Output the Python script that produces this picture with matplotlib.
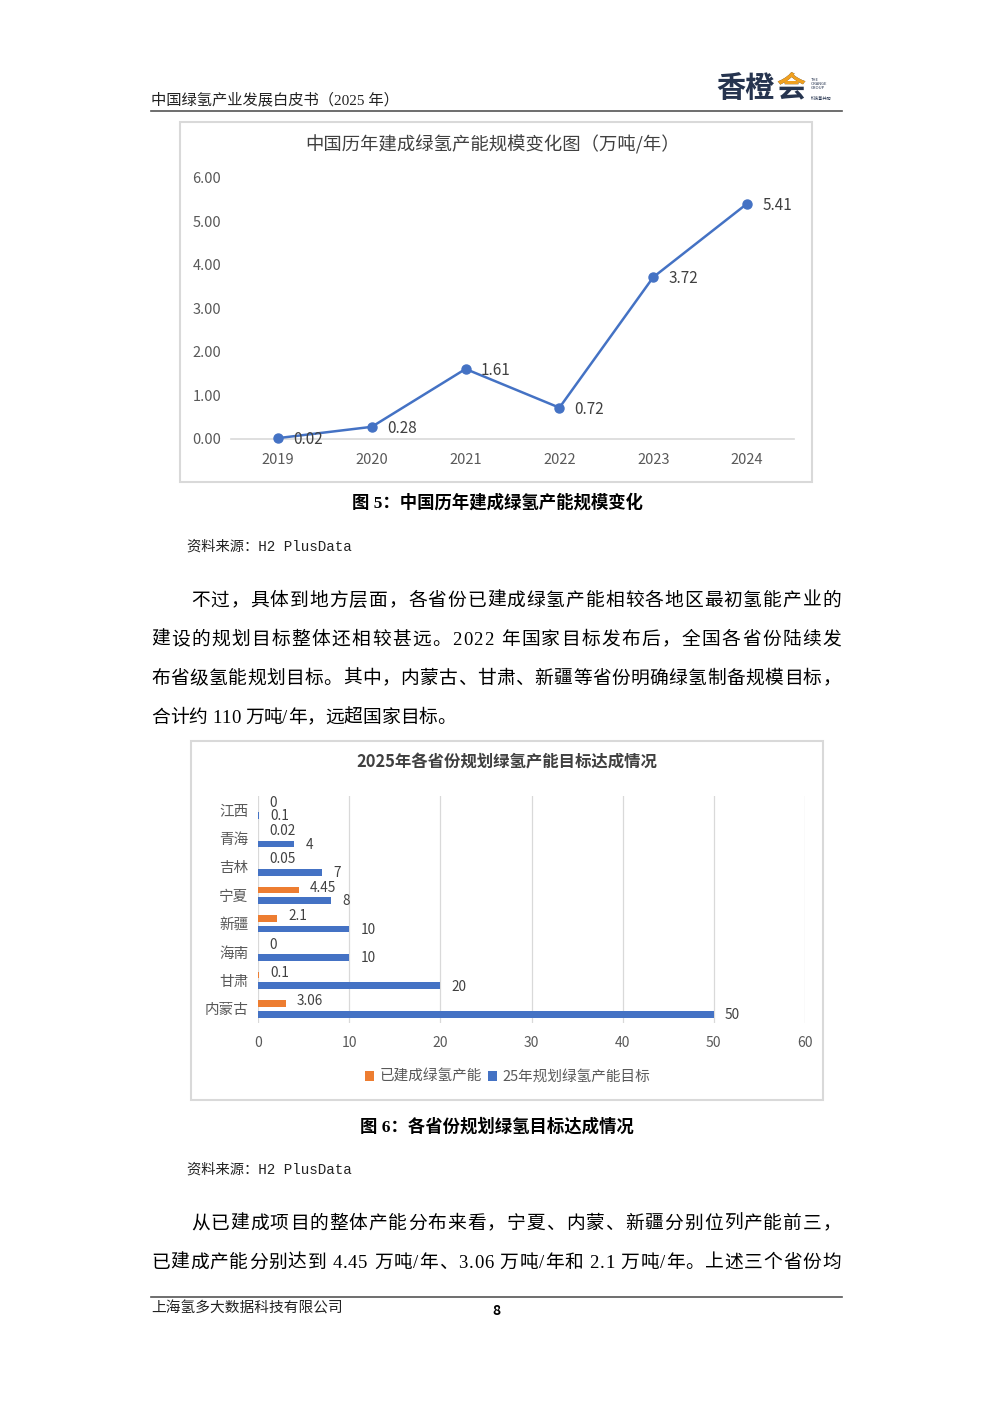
import matplotlib
matplotlib.use('Agg')
import numpy as np
import matplotlib.pyplot as plt
import matplotlib.patches as patches
from matplotlib.lines import Line2D
from matplotlib.transforms import Bbox, TransformedBbox, IdentityTransform

plt.rcParams['font.family'] = ['Noto Sans CJK SC', 'DejaVu Sans']

# chart 1 data
years = ['2019', '2020', '2021', '2022', '2023', '2024']
capacity = [0.02, 0.28, 1.61, 0.72, 3.72, 5.41]

# chart 2 data (bottom to top)
provinces = ['内蒙古', '甘肃', '海南', '新疆', '宁夏', '吉林', '青海', '江西']
built = [3.06, 0.1, 0, 2.1, 4.45, 0.05, 0.02, 0]
target = [50, 20, 10, 10, 8, 7, 4, 0.1]
legend_labels = ['已建成绿氢产能', '25年规划绿氢产能目标']

para1 = ['不过，具体到地方层面，各省份已建成绿氢产能相较各地区最初氢能产业的',
         '建设的规划目标整体还相较甚远。2022 年国家目标发布后，全国各省份陆续发',
         '布省级氢能规划目标。其中，内蒙古、甘肃、新疆等省份明确绿氢制备规模目标，',
         '合计约 110 万吨/年，远超国家目标。']
para2 = ['从已建成项目的整体产能分布来看，宁夏、内蒙、新疆分别位列产能前三，',
         '已建成产能分别达到 4.45 万吨/年、3.06 万吨/年和 2.1 万吨/年。上述三个省份均']

W, H = 992, 1403
fig = plt.figure(figsize=(W / 100, H / 100), dpi=100)
renderer = fig.canvas.get_renderer()

SERIF = ['Liberation Serif', 'Noto Sans CJK SC']
MONO = ['Liberation Mono', 'Noto Sans CJK SC']


def fx(x):
    return x / W


def fy(y):
    return 1 - y / H


def text_w(s, size, fam):
    t = fig.text(0, 0, s, fontsize=size, family=fam)
    w = t.get_window_extent(renderer).width
    t.remove()
    return w


def put_line(x0, y, s, size=13.5, x1=None, fam=SERIF):
    # justified line, y is the visual centre of the CJK glyphs
    base = text_w('中中', size, fam)
    ws = [text_w('中' + c + '中', size, fam) - base for c in s]
    gap = 0
    if x1 is not None and len(s) > 1:
        gap = (x1 - x0 - sum(ws)) / (len(s) - 1)
    x = x0
    for c, w in zip(s, ws):
        if c != ' ':
            fig.text(fx(x), fy(y + 7), c, fontsize=size, family=fam,
                     color='black', ha='left', va='baseline')
        x += w + gap


def hline(x0, x1, y, color='#555555', lw=1.2):
    fig.add_artist(Line2D([fx(x0), fx(x1)], [fy(y), fy(y)], color=color, lw=lw))


def frame(x0, y0, x1, y1):
    fig.add_artist(patches.Rectangle((fx(x0), fy(y1)), (x1 - x0) / W, (y1 - y0) / H,
                                     transform=fig.transFigure, fill=False,
                                     edgecolor='#d9d9d9', lw=1.5))


# header
fig.text(fx(151), fy(100), '中国绿氢产业发展白皮书（2025 年）', fontsize=11, family=SERIF,
         va='center', color='#222222')
hline(151, 842, 111)
fig.text(fx(716), fy(88), '香橙', fontsize=21, fontweight='bold', color='#26344f', va='center')
t_hui = fig.text(fx(776), fy(88), '会', fontsize=21, fontweight='bold', color='#26344f', va='center')
t_top = fig.text(fx(776), fy(88), '会', fontsize=21, fontweight='bold', color='#f0a020', va='center')
t_top.set_clip_box(TransformedBbox(Bbox([[770, H - 86], [812, H - 60]]), IdentityTransform()))
fig.text(fx(811), fy(84), 'THE\nORANGE\nGROUP', fontsize=3, color='#26344f', va='center',
         linespacing=1.1)
fig.text(fx(811), fy(99), '科技氢并购', fontsize=3, color='#26344f', va='center')

# chart 1
frame(180, 122, 812, 482)
fig.text(fx(493), fy(145), '中国历年建成绿氢产能规模变化图（万吨/年）', ha='center', va='center',
         fontsize=13.2, color='#404040')
ax1 = fig.add_axes([fx(231), fy(439), (794 - 231) / W, (439 - 178) / H])
ax1.patch.set_alpha(0)
xs = np.arange(len(years))
ax1.plot(xs, capacity, color='#4472C4', lw=1.8, marker='o', ms=6.5, zorder=3, clip_on=False)
ax1.set_xlim(-0.5, 5.5)
ax1.set_ylim(0, 6)
ax1.set_yticks(np.arange(0, 7))
ax1.set_yticklabels([f'{v:.2f}' for v in np.arange(0, 7)])
ax1.set_xticks(xs, years)
ax1.tick_params(length=0, labelsize=10.5, labelcolor='#595959')
ax1.tick_params(axis='y', pad=7)
ax1.tick_params(axis='x', pad=10)
for s in ['top', 'right', 'left']:
    ax1.spines[s].set_visible(False)
ax1.spines['bottom'].set_color('#d9d9d9')
ax1.spines['bottom'].set_linewidth(1.2)
for xi, v in zip(xs, capacity):
    ax1.annotate(f'{v:.2f}', (xi, v), xytext=(11, -1), textcoords='offset points',
                 ha='left', va='center', fontsize=11, color='#404040', zorder=4)

fig.text(fx(497), fy(503), '图 5：中国历年建成绿氢产能规模变化', ha='center', va='center',
         fontsize=12.5, fontweight='bold', family=SERIF)
fig.text(fx(187), fy(547), '资料来源：H2 PlusData', fontsize=10.3, family=MONO, va='center',
         color='#222222')

for i, line in enumerate(para1):
    x0 = 191 if i == 0 else 151
    x1 = None if i == len(para1) - 1 else 841
    put_line(x0, 599 + 39 * i, line, x1=x1)

# chart 2
frame(191, 741, 823, 1100)
fig.text(fx(507), fy(763), '2025年各省份规划绿氢产能目标达成情况', ha='center', va='center',
         fontsize=11.8, fontweight='bold', color='#404040')
ax2 = fig.add_axes([fx(258), fy(1023), (805 - 258) / W, (1023 - 796) / H])
ax2.patch.set_alpha(0)
ys = np.arange(len(provinces))
b1 = ax2.barh(ys + 0.19, built, height=0.24, color='#ED7D31')
b2 = ax2.barh(ys - 0.19, target, height=0.24, color='#4472C4')
ax2.set_xlim(0, 60)
ax2.set_ylim(-0.5, 7.5)
ax2.set_xticks(range(0, 61, 10))
ax2.set_yticks(ys, provinces)
ax2.grid(axis='x', color='#d9d9d9', lw=0.9)
ax2.set_axisbelow(True)
for s in ax2.spines.values():
    s.set_visible(False)
ax2.tick_params(length=0, labelcolor='#595959')
ax2.tick_params(axis='x', labelsize=10, pad=9.5)
ax2.tick_params(axis='y', labelsize=10.5, pad=7)
for yi, v in zip(ys, built):
    ax2.annotate(f'{v:g}', (v, yi + 0.19), xytext=(8, 1.5), textcoords='offset points',
                 ha='left', va='center', fontsize=9.8, color='#404040')
for yi, v in zip(ys, target):
    ax2.annotate(f'{v:g}', (v, yi - 0.19), xytext=(8, -0.5), textcoords='offset points',
                 ha='left', va='center', fontsize=9.8, color='#404040')
fig.legend([b1, b2], legend_labels, loc='center', bbox_to_anchor=(fx(508), fy(1077)),
           ncol=2, frameon=False, fontsize=10.5, handlelength=0.6, handleheight=0.6,
           handletextpad=0.4, columnspacing=0.4, labelcolor='#595959')

fig.text(fx(497), fy(1127), '图 6：各省份规划绿氢目标达成情况', ha='center', va='center',
         fontsize=12.5, fontweight='bold', family=SERIF)
fig.text(fx(187), fy(1170), '资料来源：H2 PlusData', fontsize=10.3, family=MONO, va='center',
         color='#222222')

for i, line in enumerate(para2):
    x0 = 191 if i == 0 else 151
    put_line(x0, 1222 + 39 * i, line, x1=841)

# footer
hline(151, 842, 1297)
fig.text(fx(151), fy(1309), '上海氢多大数据科技有限公司', fontsize=10.6, va='center', color='#222222')
fig.text(fx(496), fy(1311), '8', fontsize=10, va='center', ha='center', fontweight='bold')

fig.savefig('out.png', dpi=100)
